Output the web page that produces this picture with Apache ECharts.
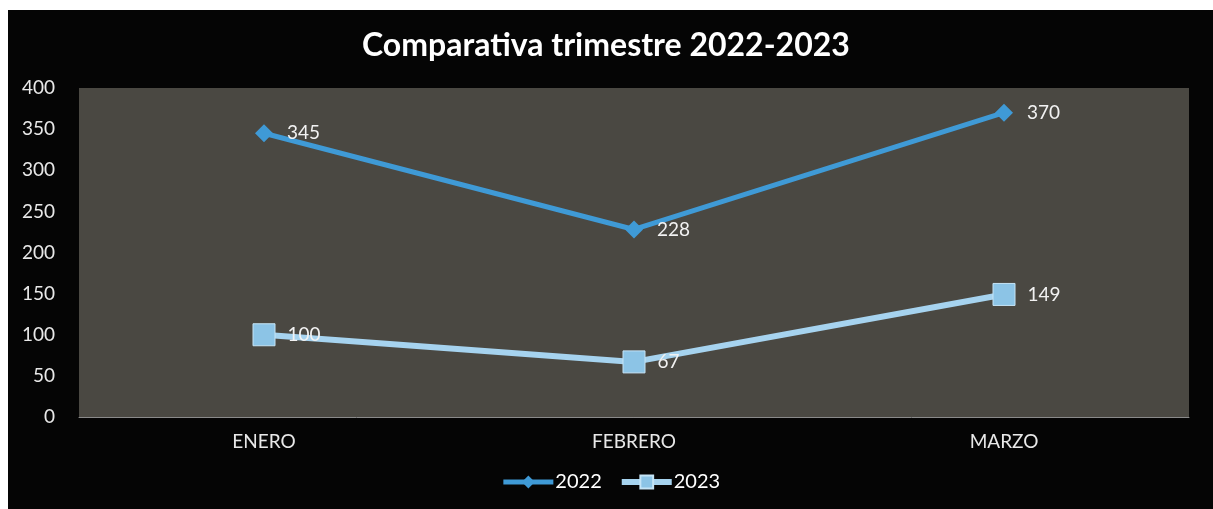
<!DOCTYPE html>
<html><head><meta charset="utf-8">
<script src="https://cdn.jsdelivr.net/npm/echarts@6/dist/echarts.min.js"></script>
<style>html,body{margin:0;padding:0;background:#fff;width:1213px;height:509px;overflow:hidden}
#c{position:absolute;left:8px;top:10px;width:1205px;height:499px;background:#050505}</style>
</head><body><div id="c"></div>
<script>
const categories = ['ENERO', 'FEBRERO', 'MARZO'];
const values2022 = [345, 228, 370];
const values2023 = [100, 67, 149];
const yTicks = [0, 50, 100, 150, 200, 250, 300, 350, 400];

const chart = echarts.init(document.getElementById('c'));
const font = 'Lato, "Open Sans", sans-serif';
chart.setOption({
  backgroundColor: '#050505',
  textStyle: { fontFamily: font },
  title: {
    text: 'Comparativa trimestre 2022-2023',
    left: 349, top: 15,
    textStyle: { color: '#fff', fontSize: 32, fontWeight: 'bold', fontFamily: font }
  },
  legend: {
    bottom: 12, left: 'center',
    itemWidth: 50, itemHeight: 16, itemGap: 17,
    textStyle: { color: '#fff', fontSize: 20, fontFamily: font, padding: [0, 0, 0, -3] },
    data: [
      { name: '2022', lineStyle: { width: 5 } },
      { name: '2023', lineStyle: { width: 6 } }
    ]
  },
  grid: {
    left: 71, right: 24, top: 78, bottom: 92,
    show: true, backgroundColor: '#4a4842', borderWidth: 0
  },
  xAxis: {
    type: 'category', data: categories, boundaryGap: true,
    axisLine: { show: true, lineStyle: { color: '#8a8a8a', width: 1 } },
    axisTick: { show: false },
    axisLabel: { color: '#e8e8e8', fontSize: 19, margin: 15, fontFamily: font }
  },
  yAxis: {
    type: 'value', min: yTicks[0], max: yTicks[yTicks.length - 1], interval: 50,
    axisLine: { show: false }, axisTick: { show: false },
    splitLine: { show: false },
    axisLabel: { color: '#e8e8e8', fontSize: 19, margin: 24, fontFamily: font }
  },
  series: [
    {
      name: '2022', type: 'line', data: values2022,
      symbol: 'diamond', symbolSize: 18,
      lineStyle: { color: '#3f9ad6', width: 5 },
      itemStyle: { color: '#3f9ad6' },
      label: { show: true, position: 'right', distance: 14, color: '#f2f2f2', fontSize: 19, fontFamily: font }
    },
    {
      name: '2023', type: 'line', data: values2023,
      symbol: 'rect', symbolSize: 22,
      lineStyle: { color: '#a6d3ef', width: 6 },
      itemStyle: { color: '#8cc4e6', borderColor: '#c5e4f6', borderWidth: 1 },
      label: { show: true, position: 'right', distance: 12, color: '#f2f2f2', fontSize: 19, fontFamily: font }
    }
  ]
});
</script></body></html>
